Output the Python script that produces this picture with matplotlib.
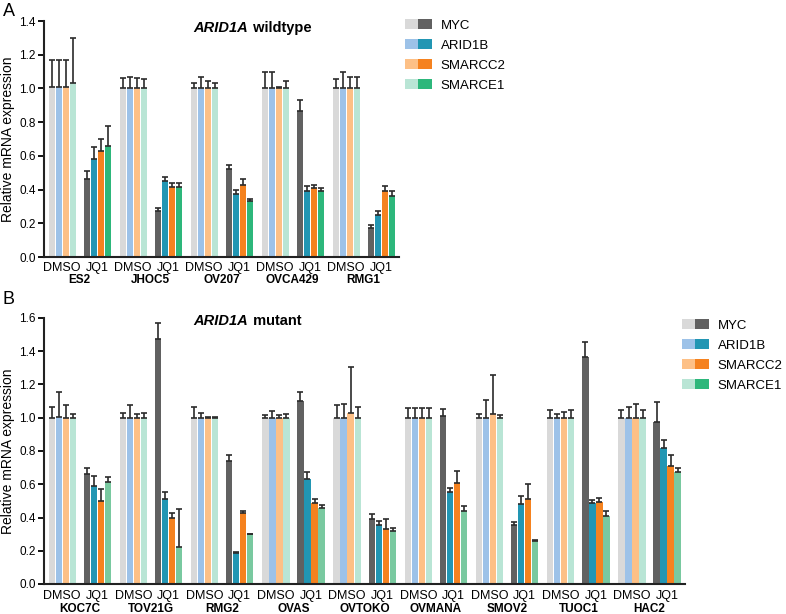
import matplotlib.pyplot as plt
import numpy as np
from matplotlib.legend_handler import HandlerTuple
from matplotlib.patches import Patch

plt.rcParams['font.family'] = ['Liberation Sans', 'DejaVu Sans']

genes = ['MYC', 'ARID1B', 'SMARCC2', 'SMARCE1']
light = ['#d9d9d9', '#9dc2e8', '#fdc086', '#b9e5d5']
dark = ['#616161', '#2296b3', '#f5821f', '#2db77b']
dark_b = ['#616161', '#2296b3', '#f5821f', '#79c9a0']

# Panel A: ARID1A wildtype
lines_a = ['ES2', 'JHOC5', 'OV207', 'OVCA429', 'RMG1']
dmso_a = [[1.01, 1.01, 1.01, 1.03],
          [1.0, 1.0, 1.0, 1.0],
          [1.0, 1.0, 1.0, 1.0],
          [1.0, 1.0, 1.0, 1.0],
          [1.0, 1.0, 1.0, 1.0]]
dmso_a_err = [[0.16, 0.16, 0.16, 0.27],
              [0.06, 0.07, 0.06, 0.055],
              [0.035, 0.07, 0.045, 0.03],
              [0.095, 0.10, 0.01, 0.045],
              [0.055, 0.095, 0.07, 0.065]]
jq1_a = [[0.46, 0.58, 0.63, 0.66],
         [0.27, 0.45, 0.415, 0.415],
         [0.52, 0.375, 0.43, 0.33],
         [0.865, 0.39, 0.41, 0.39],
         [0.17, 0.25, 0.39, 0.36]]
jq1_a_err = [[0.05, 0.07, 0.07, 0.12],
             [0.02, 0.025, 0.025, 0.025],
             [0.025, 0.025, 0.03, 0.015],
             [0.065, 0.03, 0.02, 0.02],
             [0.02, 0.02, 0.03, 0.03]]

# Panel B: ARID1A mutant
lines_b = ['KOC7C', 'TOV21G', 'RMG2', 'OVAS', 'OVTOKO', 'OVMANA', 'SMOV2', 'TUOC1', 'HAC2']
dmso_b = [[1.0, 1.005, 1.0, 1.0],
          [1.0, 1.0, 1.0, 1.0],
          [1.0, 1.0, 1.0, 1.0],
          [1.0, 1.0, 1.0, 1.0],
          [1.0, 1.0, 1.03, 1.0],
          [1.0, 1.0, 1.0, 1.0],
          [1.0, 1.0, 1.023, 1.0],
          [1.0, 1.0, 1.0, 1.0],
          [1.0, 1.0, 1.0, 1.0]]
dmso_b_err = [[0.065, 0.15, 0.075, 0.025],
              [0.03, 0.075, 0.025, 0.03],
              [0.065, 0.03, 0.005, 0.005],
              [0.015, 0.04, 0.015, 0.02],
              [0.075, 0.085, 0.275, 0.065],
              [0.06, 0.06, 0.06, 0.06],
              [0.02, 0.105, 0.237, 0.015],
              [0.045, 0.025, 0.035, 0.045],
              [0.049, 0.067, 0.08, 0.049]]
jq1_b = [[0.66, 0.59, 0.50, 0.615],
         [1.475, 0.51, 0.40, 0.22],
         [0.74, 0.185, 0.43, 0.30],
         [1.10, 0.63, 0.485, 0.455],
         [0.39, 0.355, 0.33, 0.32],
         [1.008, 0.555, 0.61, 0.44],
         [0.353, 0.483, 0.511, 0.257],
         [1.365, 0.487, 0.493, 0.411],
         [0.976, 0.818, 0.708, 0.676]]
jq1_b_err = [[0.035, 0.06, 0.07, 0.03],
             [0.095, 0.045, 0.03, 0.23],
             [0.035, 0.005, 0.01, 0.003],
             [0.055, 0.045, 0.025, 0.02],
             [0.03, 0.025, 0.06, 0.015],
             [0.042, 0.022, 0.07, 0.027],
             [0.018, 0.044, 0.089, 0.006],
             [0.089, 0.02, 0.024, 0.026],
             [0.117, 0.046, 0.066, 0.024]]

PITCH = 10.15
W = 0.9


def draw_panel(ax, lines, dmso, dmso_err, jq1, jq1_err, dcols, ymax):
    dmso = np.array(dmso)
    jq1 = np.array(jq1)
    base = np.arange(len(lines)) * PITCH
    for k in range(4):
        for vals, errs, off, col in [(dmso[:, k], np.array(dmso_err)[:, k], 0, light[k]),
                                     (jq1[:, k], np.array(jq1_err)[:, k], 5, dcols[k])]:
            x = base + off + k
            ax.bar(x, vals, width=W, color=col, zorder=2)
            ax.errorbar(x, vals, yerr=[np.zeros_like(errs), errs], fmt='none',
                        ecolor='#2b2b2b', elinewidth=1.2, capsize=2, capthick=1.2, zorder=3)
    ax.set_xlim(-1.1, base[-1] + 8.5 + 0.55)
    ax.set_ylim(0, ymax)
    ticks = np.arange(0, ymax + 0.01, 0.2)
    ax.set_yticks(ticks)
    ax.set_yticklabels([f'{v:.1f}' for v in ticks])
    ax.set_xticks([])
    for b in base:
        ax.text(b + 1.5, -0.03 * ymax / 1.4, 'DMSO', ha='center', va='top', fontsize=9)
        ax.text(b + 6.5, -0.03 * ymax / 1.4, 'JQ1', ha='center', va='top', fontsize=9)
    for b, name in zip(base, lines):
        ax.text(b + 4, -0.1 * ymax / 1.4, name, ha='center', va='top', fontsize=8.5,
                fontweight='bold')
    for s in ['top', 'right']:
        ax.spines[s].set_visible(False)
    for s in ['left', 'bottom']:
        ax.spines[s].set_linewidth(1.5)
        ax.spines[s].set_color('#222222')
    ax.tick_params(axis='y', direction='out', length=4, width=1.3, labelsize=8.5, pad=2)
    ax.set_ylabel('Relative mRNA expression', fontsize=10, labelpad=3)


def add_legend(ax, dcols, anchor):
    handles = [(Patch(color=light[k], lw=0), Patch(color=dcols[k], lw=0)) for k in range(4)]
    ax.legend(handles, genes, handler_map={tuple: HandlerTuple(ndivide=None, pad=0)},
              frameon=False, fontsize=9.5, loc='upper left', bbox_to_anchor=anchor,
              bbox_transform=fig.transFigure, handlelength=2.0, handleheight=0.8,
              labelspacing=0.55, handletextpad=0.7, borderaxespad=0)


def add_title(y, rest):
    fig.text(248 / 786, 1 - y / 614, 'ARID1A', ha='right', va='center',
             fontsize=10.5, fontweight='bold', style='italic')
    fig.text(249 / 786, 1 - y / 614, ' ' + rest, ha='left', va='center',
             fontsize=10.5, fontweight='bold')


fig = plt.figure(figsize=(7.86, 6.14), dpi=100)
ax_a = fig.add_axes([44 / 786, 1 - 257 / 614, 355 / 786, 236 / 614])
ax_b = fig.add_axes([44 / 786, 1 - 584 / 614, 641 / 786, 266 / 614])

draw_panel(ax_a, lines_a, dmso_a, dmso_a_err, jq1_a, jq1_a_err, dark, 1.4)
draw_panel(ax_b, lines_b, dmso_b, dmso_b_err, jq1_b, jq1_b_err, dark_b, 1.6)

# Titles and panel letters
add_title(28, 'wildtype')
add_title(321, 'mutant')
fig.text(3 / 786, 1 - 11 / 614, 'A', fontsize=13, va='center', ha='left')
fig.text(3 / 786, 1 - 299 / 614, 'B', fontsize=13, va='center', ha='left')

add_legend(ax_a, dark, (400 / 786, 1 - 14 / 614))
add_legend(ax_b, dark, (677 / 786, 1 - 314 / 614))

fig.savefig('out.png', dpi=100)
